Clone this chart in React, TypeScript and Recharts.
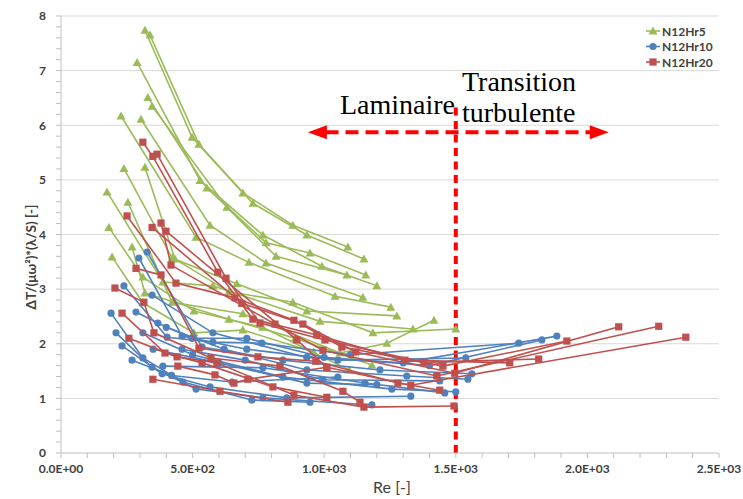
import React from 'react';
import { ScatterChart, Scatter, XAxis, YAxis, CartesianGrid, ReferenceLine, ReferenceDot } from 'recharts';

type Pt = [number, number];

// N12Hr5 curves, [Re, value]
const hr5Curves: Pt[][] = [
  [[319, 7.74], [498, 5.78], [691, 4.76], [881, 4.17], [1090, 3.77]],
  [[338, 7.65], [524, 5.65], [729, 4.57], [934, 3.99], [1151, 3.55]],
  [[289, 7.15], [528, 4.99], [767, 3.99], [991, 3.42], [1200, 3.06]],
  [[330, 6.51], [554, 4.85], [779, 3.85], [946, 3.66], [1158, 3.26]],
  [[346, 6.35], [630, 4.5], [817, 3.6], [1086, 3.26]],
  [[228, 6.17], [513, 3.95], [714, 3.49], [1041, 2.87], [1253, 2.67]],
  [[304, 6.11], [566, 4.17], [779, 3.48], [1147, 2.85]],
  [[239, 5.21], [422, 3.57], [668, 3.1], [934, 2.6], [1276, 2.51]],
  [[319, 5.23], [433, 3.55], [638, 2.95], [881, 2.76], [1185, 2.2], [1500, 2.27]],
  [[175, 4.78], [387, 3.13], [577, 3.06], [984, 2.41], [1337, 2.27]],
  [[254, 4.59], [422, 2.76], [691, 2.55], [1060, 1.83], [1238, 2.01], [1417, 2.43]],
  [[182, 4.13], [311, 3.22], [505, 2.6], [766, 2.3], [1094, 1.52]],
  [[270, 3.77], [319, 2.93], [638, 2.45], [890, 2.1], [1181, 1.61]],
  [[194, 3.59], [311, 2.75], [505, 2.2], [691, 2.25], [960, 1.85]],
];

// N12Hr10 curves
const hr10Curves: Pt[][] = [
  [[327, 3.68], [536, 1.94], [843, 1.7], [1212, 1.52], [1561, 1.45]],
  [[296, 3.57], [460, 2.14], [706, 1.9], [1052, 1.7], [1538, 1.74]],
  [[239, 3.06], [403, 2.12], [577, 2.03], [763, 2.01], [1100, 1.8], [1739, 2.01]],
  [[190, 2.56], [311, 1.74], [463, 1.3], [725, 0.97], [946, 0.93]],
  [[209, 2.2], [346, 1.57], [513, 1.17], [767, 1.01], [1181, 0.88]],
  [[232, 1.96], [384, 1.45], [566, 1.21], [858, 1.01], [1329, 1.04]],
  [[285, 2.58], [368, 2.38], [498, 2.1], [706, 2.1], [1000, 1.75], [1400, 1.6], [1827, 2.07]],
  [[346, 2.89], [577, 2.2], [934, 1.75], [1300, 1.65], [1884, 2.14]],
  [[387, 1.59], [767, 1.56], [1155, 1.28], [1458, 1.1]],
  [[311, 2.2], [500, 1.8], [843, 1.39], [1257, 1.17], [1500, 1.12]],
  [[400, 2.3], [620, 1.9], [934, 1.52], [1314, 1.41], [1546, 1.35]],
  [[460, 1.9], [700, 1.7], [995, 1.34], [1439, 1.32]],
  [[350, 1.9], [600, 1.65], [934, 1.28], [1200, 1.25]],
  [[270, 1.7], [420, 1.42], [650, 1.3], [1052, 1.39]],
];

// N12Hr20 curves
const hr20Curves: Pt[][] = [
  [[311, 5.69], [349, 5.43], [596, 3.31], [729, 2.45], [972, 2.16], [1307, 1.7], [1705, 1.65]],
  [[365, 5.47], [627, 3.2], [756, 2.38], [1003, 2.07], [1379, 1.66], [1815, 1.72]],
  [[251, 4.34], [437, 3.11], [661, 2.84], [885, 2.43], [1067, 1.94], [1451, 1.59], [1922, 2.05]],
  [[346, 4.13], [687, 2.74], [919, 2.36], [1120, 1.85], [1496, 1.46], [2119, 2.31]],
  [[380, 4.21], [418, 3.44], [813, 2.36], [995, 1.88], [1428, 1.41], [2271, 2.32]],
  [[399, 4.06], [896, 2.07], [1010, 1.57], [1329, 1.24], [2374, 2.12]],
  [[285, 3.38], [380, 3.26], [524, 1.92], [748, 1.76], [968, 1.68], [1280, 1.28], [1439, 1.15]],
  [[205, 3.02], [315, 2.76], [353, 2.2], [570, 1.74], [832, 1.59], [1071, 1.13], [1136, 0.93]],
  [[232, 2.56], [395, 1.83], [536, 1.65], [805, 1.21], [1010, 1.02]],
  [[258, 2.1], [441, 1.76], [592, 1.65], [885, 1.06], [1151, 0.84], [1493, 0.86]],
  [[349, 1.35], [604, 1.13], [862, 0.93]],
  [[444, 1.59], [585, 1.43], [657, 1.28], [710, 1.35], [1010, 1.57]],
];

const seriesNames = ['N12Hr5', 'N12Hr10', 'N12Hr20'];
const seriesColors = ['#9BBB59', '#4F81BD', '#C0504D'];

const xTicks = Array.from({ length: 26 }, (_, i) => i * 100);
const yTicks = Array.from({ length: 41 }, (_, i) => i / 5);
const gridValues = [1, 2, 3, 4, 5, 6, 7, 8];
const yMax = 8;

const fmtX = (v: number) => {
  if (v % 500 !== 0) return '';
  const [m, e] = v.toExponential(1).split('e');
  const n = parseInt(e, 10);
  return `${m}E${n < 0 ? '-' : '+'}${String(Math.abs(n)).padStart(2, '0')}`;
};
const fmtY = (v: number) => (Math.abs(v - Math.round(v)) < 1e-6 ? String(Math.round(v)) : '');

const Tri = ({ cx, cy, fill }: any) => (
  <polygon points={`${cx},${cy - 4.5} ${cx + 4.5},${cy + 3.5} ${cx - 4.5},${cy + 3.5}`} fill={fill} />
);
const Dot = ({ cx, cy, fill }: any) => <circle cx={cx} cy={cy} r={3.6} fill={fill} />;
const Sq = ({ cx, cy, fill }: any) => <rect x={cx - 3.6} y={cy - 3.6} width={7.2} height={7.2} fill={fill} />;
const markers = [Tri, Dot, Sq];

const toXY = (c: Pt[]) => c.map(([x, y]) => ({ x, y }));

const tickStyle = { fill: '#404040', fontSize: 12, fontWeight: 700, fontFamily: 'Lato, sans-serif' };
const annotFont = { fontFamily: '"Liberation Serif", serif', fontSize: 28, fill: '#000' };

// grid only at the integer values, from the y axis scale when available
const gridGen = ({ yAxis, offset }: any) =>
  gridValues.map(v => {
    const s = yAxis && yAxis.scale;
    if (typeof s === 'function') return s(v);
    if (s && typeof s.map === 'function') return s.map(v);
    return offset.top + offset.height * (1 - v / yMax);
  });

export default function App() {
  const groups = [hr5Curves, hr10Curves, hr20Curves];
  return (
    <div style={{ position: 'absolute', left: 0, top: 0, width: 743, height: 499, background: '#fff' }}>
      <ScatterChart width={743} height={499} margin={{ top: 16, right: 24, bottom: 16, left: 0 }}>
        <CartesianGrid vertical={false} stroke="#d9d9d9" horizontalCoordinatesGenerator={gridGen} />
        <XAxis
          type="number"
          dataKey="x"
          domain={[0, 2500]}
          ticks={xTicks}
          interval={0}
          tickFormatter={fmtX}
          height={30}
          tickSize={5}
          tickMargin={6}
          stroke="#bfbfbf"
          tick={tickStyle}
        />
        <YAxis
          type="number"
          dataKey="y"
          domain={[0, yMax]}
          ticks={yTicks}
          interval={0}
          tickFormatter={fmtY}
          width={61}
          tickSize={5}
          tickMargin={10}
          stroke="#bfbfbf"
          tick={tickStyle}
        />
        {groups.map((curves, gi) =>
          curves.map((c, ci) => {
            const M = markers[gi];
            return (
              <Scatter
                key={`${gi}-${ci}`}
                name={seriesNames[gi]}
                data={toXY(c)}
                fill={seriesColors[gi]}
                line={{ stroke: seriesColors[gi], strokeWidth: 1.6 }}
                shape={(p: any) => <M cx={p.cx} cy={p.cy} fill={seriesColors[gi]} />}
                isAnimationActive={false}
              />
            );
          })
        )}
        <ReferenceLine
          segment={[{ x: 1500, y: 0 }, { x: 1500, y: 6.42 }]}
          stroke="#ff0000"
          strokeWidth={4}
          strokeDasharray="8 5.5"
        />
        <ReferenceLine
          segment={[{ x: 1005, y: 5.87 }, { x: 2012, y: 5.87 }]}
          stroke="#ff0000"
          strokeWidth={4}
          strokeDasharray="13 7"
        />
        <ReferenceDot
          x={938}
          y={5.87}
          r={1}
          shape={(p: any) => (
            <polygon points={`${p.cx},${p.cy} ${p.cx + 19},${p.cy - 7} ${p.cx + 19},${p.cy + 7}`} fill="#ff0000" />
          )}
        />
        <ReferenceDot
          x={2081}
          y={5.87}
          r={1}
          shape={(p: any) => (
            <polygon points={`${p.cx},${p.cy} ${p.cx - 19},${p.cy - 7} ${p.cx - 19},${p.cy + 7}`} fill="#ff0000" />
          )}
        />
      </ScatterChart>

      <svg width={743} height={499} style={{ position: 'absolute', left: 0, top: 0, pointerEvents: 'none' }}>
        <text x={340} y={114} {...annotFont}>Laminaire</text>
        <text x={462} y={91} {...annotFont}>Transition</text>
        <text x={462} y={122} {...annotFont}>turbulente</text>
        <text
          x={31}
          y={257}
          transform="rotate(-90 31 257)"
          textAnchor="middle"
          dominantBaseline="central"
          fontFamily="Lato, sans-serif"
          fontWeight={700}
          fontSize={13.5}
          fill="#404040"
        >
          ΔT/(μω²)*(λ/S) [-]
        </text>
        <text x={392} y={493} textAnchor="middle" fontFamily="Lato, sans-serif" fontSize={16} fill="#404040">
          Re [-]
        </text>
        {seriesNames.map((n, i) => {
          const y = 31 + i * 15.5;
          const M = markers[i];
          return (
            <g key={n}>
              <line x1={646} x2={660} y1={y} y2={y} stroke={seriesColors[i]} strokeWidth={1.6} />
              <M cx={653} cy={y} fill={seriesColors[i]} />
              <text x={662} y={y} dominantBaseline="central" fontFamily="Lato, sans-serif" fontWeight={700} fontSize={12} fill="#404040">
                {n}
              </text>
            </g>
          );
        })}
      </svg>
    </div>
  );
}
